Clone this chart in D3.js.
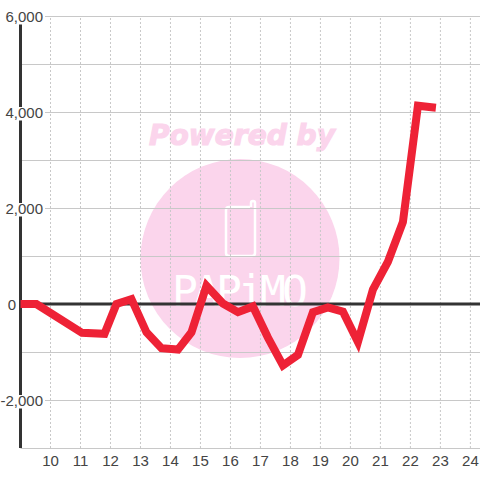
<!DOCTYPE html>
<html>
<head>
<meta charset="utf-8">
<script src="https://cdn.jsdelivr.net/npm/d3@7"></script>
<style>
    html, body { margin: 0; padding: 0; background: #fff; }
    svg { display: block; font-family: "Liberation Sans", Arial, sans-serif; }
</style>
</head>
<body>
<div id="chart"></div>
<script>
// values
const months = [9, 9.53, 11.05, 11.8, 12.2, 12.7, 13.2, 13.7, 14.25, 14.7, 15.2, 15.75, 16.25, 16.75, 17.25, 17.75, 18.25, 18.75, 19.25, 19.75, 20.25, 20.75, 21.25, 21.75, 22.25, 22.85];
const values = [0, 0, -600, -620, 0, 100, -590, -920, -950, -590, 380, 10, -170, -50, -700, -1280, -1060, -170, -70, -160, -790, 300, 880, 1710, 4130, 4090];
const xTicks = [10, 11, 12, 13, 14, 15, 16, 17, 18, 19, 20, 21, 22, 23, 24];
const yGrid = [-3000, -2000, -1000, 0, 1000, 2000, 3000, 4000, 5000, 6000];
const yLabels = [-2000, 0, 2000, 4000, 6000];

const width = 480, height = 480;
const margin = { top: 16, left: 20.5, bottom: 32 };

const x = d3.scaleLinear().domain([9, 24.32]).range([margin.left, 480]);
const y = d3.scaleLinear().domain([-3000, 6000]).range([height - margin.bottom, margin.top]);

const svg = d3.select("#chart").append("svg")
    .attr("width", width)
    .attr("height", height);

// Watermark
const mark = svg.append("g");
mark.append("circle")
    .attr("cx", 240).attr("cy", 258.5).attr("r", 99.5)
    .attr("fill", "#fbd5ec");
mark.append("text")
    .attr("x", 242).attr("y", 145)
    .attr("text-anchor", "middle")
    .attr("textLength", 186)
    .attr("lengthAdjust", "spacingAndGlyphs")
    .style("font-family", "'DejaVu Sans'")
    .style("font-size", "29px")
    .style("font-weight", "bold")
    .style("font-style", "italic")
    .style("fill", "#fbd5ec")
    .style("stroke", "#fbd5ec")
    .style("stroke-width", 1.2)
    .text("Powered by");
mark.append("path")
    .attr("d", "M250 207H229Q226 207 226 210V253Q226 256 229 256H252Q255 256 255 253V203Q255 201 253 201Q251 201 251 203V207")
    .attr("fill", "none")
    .attr("stroke", "#fff")
    .attr("stroke-width", 2.5);
mark.append("text")
    .attr("x", 172).attr("y", 306)
    .attr("textLength", 136)
    .attr("lengthAdjust", "spacing")
    .style("font-family", "'DejaVu Sans Mono'")
    .style("font-size", "43px")
    .style("fill", "#fff")
    .text("PAPiMO");

// Grid, drawn with the axes
const yAxis = svg.append("g")
    .attr("transform", `translate(${margin.left},0.5)`)
    .call(d3.axisLeft(y).offset(0).tickValues(yGrid).tickSize(-(480 - margin.left)).tickFormat(""));
yAxis.select(".domain").remove();
yAxis.selectAll("line").attr("stroke", "#c8c8c8");

const xAxis = svg.append("g")
    .attr("transform", `translate(0,${height - margin.bottom})`)
    .call(d3.axisBottom(x).offset(0).tickValues(xTicks).tickSize(-(height - margin.bottom - margin.top)).tickPadding(0).tickFormat(d3.format("d")));
xAxis.select(".domain").remove();
xAxis.selectAll("line")
    .attr("stroke", "#c8c8c8")
    .attr("stroke-dasharray", "2,2");
xAxis.selectAll("text")
    .attr("y", 0)
    .attr("dy", 18)
    .style("font-size", "15px")
    .style("font-family", "'Liberation Sans'")
    .style("fill", "#444");

// Axis lines
svg.append("line")
    .attr("x1", margin.left).attr("x2", margin.left)
    .attr("y1", margin.top).attr("y2", height - margin.bottom)
    .attr("stroke", "#333").attr("stroke-width", 3);
svg.append("line")
    .attr("x1", margin.left).attr("x2", 480)
    .attr("y1", y(0)).attr("y2", y(0))
    .attr("stroke", "#333").attr("stroke-width", 3);

// Y labels sit on a white patch that breaks the axis line
const labels = svg.append("g").selectAll("g")
    .data(yLabels)
    .join("g");
labels.filter((d) => d !== 0).append("rect")
    .attr("x", 0).attr("width", 45)
    .attr("y", (d) => y(d) - 5).attr("height", 13.5)
    .attr("fill", "#fff");
labels.append("text")
    .attr("x", (d) => (d === 0 ? 16 : 43))
    .attr("y", (d) => y(d) + 6)
    .attr("text-anchor", "end")
    .style("font-size", "15px")
    .style("fill", "#444")
    .text((d) => d3.format(",")(d).replace("−", "-"));

// Series
const line = d3.line()
    .x((d, i) => x(months[i]))
    .y((d) => y(d));

svg.append("path")
    .datum(values)
    .attr("d", line)
    .attr("fill", "none")
    .attr("stroke", "#ee2236")
    .attr("stroke-width", 8)
    .attr("stroke-linejoin", "miter");
</script>
</body>
</html>
